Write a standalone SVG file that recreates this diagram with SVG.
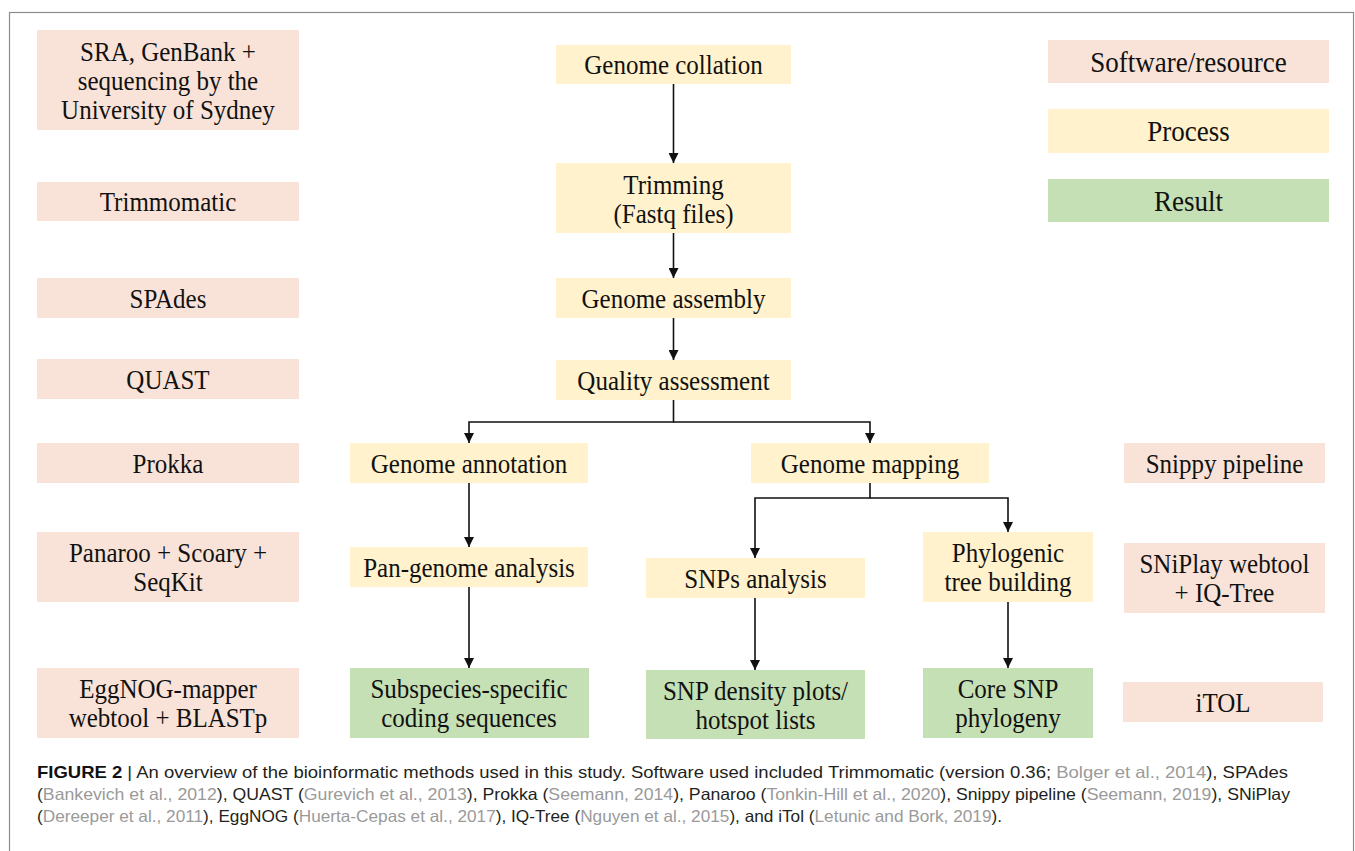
<svg xmlns="http://www.w3.org/2000/svg" width="1355" height="851" viewBox="0 0 1355 851">
<style>
.sw{fill:#F9E3D8}
.pr{fill:#FFF2CC}
.rs{fill:#C5E0B4}
.t{font-family:"Liberation Serif","Times New Roman",serif;font-size:25px;fill:#111;text-anchor:middle;transform-box:fill-box;transform-origin:center;transform:scaleY(1.07)}
.lg{font-size:27px}
.cap{font-family:"Liberation Sans",Arial,sans-serif;font-size:16.5px;fill:#231f20}
.g{fill:#9a9a9a}
.b{font-weight:bold;fill:#111}
.c{fill:none;stroke:#111;stroke-width:1.6}
</style>
<defs>
<marker id="ah" markerUnits="userSpaceOnUse" markerWidth="10" markerHeight="10" refX="10" refY="5" orient="auto">
<path d="M0,0 L10,5 L0,10 z" fill="#111"/>
</marker>
</defs>
<rect x="0" y="0" width="1355" height="851" fill="#fff"/>
<rect x="9.5" y="12.5" width="1344" height="860" fill="none" stroke="#8c8c8c" stroke-width="1.2"/>

<g id="sra"><rect class="sw" x="37" y="30" width="262" height="100"/><text class="t" x="168" y="60">SRA, GenBank +</text><text class="t" x="168" y="89">sequencing by the</text><text class="t" x="168" y="118">University of Sydney</text></g>
<g id="trimmomatic"><rect class="sw" x="37" y="182" width="262" height="39"/><text class="t" x="168" y="210.5">Trimmomatic</text></g>
<g id="spades"><rect class="sw" x="37" y="278" width="262" height="40"/><text class="t" x="168" y="307">SPAdes</text></g>
<g id="quast"><rect class="sw" x="37" y="359" width="262" height="40"/><text class="t" x="168" y="388">QUAST</text></g>
<g id="prokka"><rect class="sw" x="37" y="443" width="262" height="40"/><text class="t" x="168" y="472">Prokka</text></g>
<g id="panaroo"><rect class="sw" x="37" y="532" width="262" height="70"/><text class="t" x="168" y="561.5">Panaroo + Scoary +</text><text class="t" x="168" y="590.5">SeqKit</text></g>
<g id="eggnog"><rect class="sw" x="37" y="668" width="262" height="70"/><text class="t" x="168" y="697.5">EggNOG-mapper</text><text class="t" x="168" y="726.5">webtool + BLASTp</text></g>

<g id="collation"><rect class="pr" x="556" y="45" width="235" height="39"/><text class="t" x="673.5" y="73.5">Genome collation</text></g>
<g id="trimming"><rect class="pr" x="556" y="163" width="235" height="70"/><text class="t" x="673.5" y="193">Trimming</text><text class="t" x="673.5" y="222">(Fastq files)</text></g>
<g id="assembly"><rect class="pr" x="556" y="278" width="235" height="40"/><text class="t" x="673.5" y="307">Genome assembly</text></g>
<g id="quality"><rect class="pr" x="556" y="360" width="235" height="40"/><text class="t" x="673.5" y="389">Quality assessment</text></g>
<g id="annotation"><rect class="pr" x="350" y="443" width="238" height="40"/><text class="t" x="469" y="472">Genome annotation</text></g>
<g id="mapping"><rect class="pr" x="751" y="443" width="238" height="40"/><text class="t" x="870" y="472">Genome mapping</text></g>
<g id="pangenome"><rect class="pr" x="350" y="547" width="238" height="40"/><text class="t" x="469" y="576">Pan-genome analysis</text></g>
<g id="snps"><rect class="pr" x="646" y="558" width="219" height="40"/><text class="t" x="755.5" y="587">SNPs analysis</text></g>
<g id="phylo"><rect class="pr" x="923" y="532" width="170" height="70"/><text class="t" x="1008" y="561.5">Phylogenic</text><text class="t" x="1008" y="590.5">tree building</text></g>

<g id="subspecies"><rect class="rs" x="350" y="668" width="239" height="70"/><text class="t" x="469" y="697.5">Subspecies-specific</text><text class="t" x="469" y="726.5">coding sequences</text></g>
<g id="density"><rect class="rs" x="646" y="670" width="219" height="69"/><text class="t" x="755.5" y="699">SNP density plots/</text><text class="t" x="755.5" y="728">hotspot lists</text></g>
<g id="core"><rect class="rs" x="923" y="668" width="170" height="70"/><text class="t" x="1008" y="697.5">Core SNP</text><text class="t" x="1008" y="726.5">phylogeny</text></g>

<g id="snippy"><rect class="sw" x="1124" y="443" width="201" height="40"/><text class="t" x="1224.5" y="472">Snippy pipeline</text></g>
<g id="sniplay"><rect class="sw" x="1124" y="543" width="201" height="70"/><text class="t" x="1224.5" y="572.5">SNiPlay webtool</text><text class="t" x="1224.5" y="601.5">+ IQ-Tree</text></g>
<g id="itol"><rect class="sw" x="1123" y="682" width="200" height="40"/><text class="t" x="1223" y="711">iTOL</text></g>

<g id="legend-software"><rect class="sw" x="1048" y="40" width="281" height="43"/><text class="t lg" x="1188.5" y="71">Software/resource</text></g>
<g id="legend-process"><rect class="pr" x="1048" y="109" width="281" height="44"/><text class="t lg" x="1188.5" y="140.5">Process</text></g>
<g id="legend-result"><rect class="rs" x="1048" y="179" width="281" height="43"/><text class="t lg" x="1188.5" y="210">Result</text></g>

<g id="connectors">
<path class="c" d="M673.5,84 V163" marker-end="url(#ah)"/>
<path class="c" d="M673.5,233 V278" marker-end="url(#ah)"/>
<path class="c" d="M673.5,318 V360" marker-end="url(#ah)"/>
<path class="c" d="M673.5,400 V422 H469 V443" marker-end="url(#ah)"/>
<path class="c" d="M673.5,422 H870 V443" marker-end="url(#ah)"/>
<path class="c" d="M469,483 V547" marker-end="url(#ah)"/>
<path class="c" d="M469,587 V668" marker-end="url(#ah)"/>
<path class="c" d="M870,483 V498 H755 V558" marker-end="url(#ah)"/>
<path class="c" d="M870,498 H1008 V532" marker-end="url(#ah)"/>
<path class="c" d="M755,598 V670" marker-end="url(#ah)"/>
<path class="c" d="M1008,602 V668" marker-end="url(#ah)"/>
</g>

<g id="caption">
<text class="cap" x="37" y="778" textLength="1251" lengthAdjust="spacingAndGlyphs"><tspan class="b">FIGURE 2</tspan> | An overview of the bioinformatic methods used in this study. Software used included Trimmomatic (version 0.36; <tspan class="g">Bolger et al., 2014</tspan>), SPAdes</text>
<text class="cap" x="37" y="800" textLength="1253" lengthAdjust="spacingAndGlyphs">(<tspan class="g">Bankevich et al., 2012</tspan>), QUAST (<tspan class="g">Gurevich et al., 2013</tspan>), Prokka (<tspan class="g">Seemann, 2014</tspan>), Panaroo (<tspan class="g">Tonkin-Hill et al., 2020</tspan>), Snippy pipeline (<tspan class="g">Seemann, 2019</tspan>), SNiPlay</text>
<text class="cap" x="37" y="822" textLength="965" lengthAdjust="spacingAndGlyphs">(<tspan class="g">Dereeper et al., 2011</tspan>), EggNOG (<tspan class="g">Huerta-Cepas et al., 2017</tspan>), IQ-Tree (<tspan class="g">Nguyen et al., 2015</tspan>), and iTol (<tspan class="g">Letunic and Bork, 2019</tspan>).</text>
</g>
</svg>
